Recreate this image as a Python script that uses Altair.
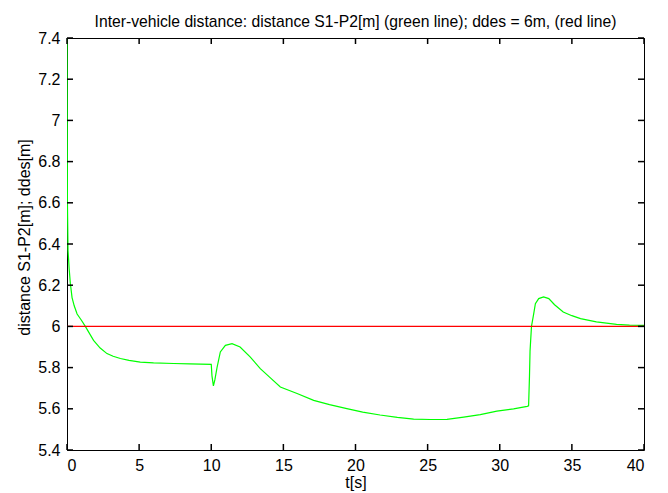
import altair as alt
import pandas as pd

t = [0, 0.03, 0.07, 0.15, 0.23, 0.35, 0.5, 0.7, 1.0, 1.27, 1.84, 2.3, 2.77, 3.2, 3.7,
     4.3, 5.08, 6.0, 7.39, 8.5, 10.0, 10.05, 10.15, 10.25, 10.4, 10.63, 10.98, 11.44,
     12.0, 12.71, 13.4, 14.1, 14.79, 15.95, 17.1, 18.2, 19.4, 20.5, 21.7, 22.9, 24.03,
     25.2, 26.34, 27.5, 28.65, 29.8, 30.96, 31.9, 32.0, 32.06, 32.1, 32.2, 32.35, 32.47,
     32.7, 33.04, 33.4, 33.8, 34.4, 35.0, 35.6, 36.7, 38.1, 39.0, 40.0]
dist = [7.4, 6.6, 6.37, 6.28, 6.21, 6.14, 6.1, 6.06, 6.03, 6.0, 5.932, 5.895, 5.868, 5.855,
        5.844, 5.835, 5.827, 5.823, 5.82, 5.818, 5.816, 5.76, 5.711, 5.74, 5.8, 5.876,
        5.908, 5.916, 5.9, 5.851, 5.795, 5.75, 5.706, 5.674, 5.641, 5.62, 5.601, 5.584,
        5.57, 5.558, 5.55, 5.548, 5.549, 5.56, 5.572, 5.589, 5.6, 5.612, 5.614, 5.755,
        5.88, 6.0, 6.06, 6.11, 6.135, 6.143, 6.135, 6.105, 6.07, 6.052, 6.038, 6.022,
        6.01, 6.006, 6.005]
ddes = 6.0
x_ticks = [0, 5, 10, 15, 20, 25, 30, 35, 40]
y_ticks = [5.4, 5.6, 5.8, 6.0, 6.2, 6.4, 6.6, 6.8, 7.0, 7.2, 7.4]

W, H, TL = 577, 412, 6

df = pd.DataFrame({"t": t, "d": dist})
ref = pd.DataFrame({"t": [0, 40], "d": [ddes, ddes]})
# tick segments: one row per tick, start and end in data units computed from pixel length
dx = 40 * TL / W
dy = 2.0 * TL / H
xt_rows = []
for v in x_ticks:
    xt_rows.append({"x": v, "x2": v, "y": 5.4, "y2": 5.4 + dy})
    xt_rows.append({"x": v, "x2": v, "y": 7.4 - dy, "y2": 7.4})
for v in y_ticks:
    xt_rows.append({"x": 0, "x2": dx, "y": v, "y2": v})
    xt_rows.append({"x": 40 - dx, "x2": 40, "y": v, "y2": v})
ticks_df = pd.DataFrame(xt_rows)

FONT = "Liberation Sans"
xs = alt.Scale(domain=[0, 40], nice=False, zero=False)
ys = alt.Scale(domain=[5.4, 7.4], nice=False, zero=False)

x_axis = alt.Axis(values=x_ticks, grid=False, domain=False, ticks=False,
                  labelFont=FONT, labelFontSize=16, labelColor="#000000", labelPadding=7,
                  title="t[s]", titleFont=FONT, titleFontSize=16, titleFontWeight="normal",
                  titleColor="#000000", titlePadding=1)
y_axis = alt.Axis(values=y_ticks, grid=False, domain=False, ticks=False,
                  labelFont=FONT, labelFontSize=16, labelColor="#000000", labelPadding=7,
                  labelExpr="format(datum.value, '.1~f')",
                  title="distance S1-P2[m]; ddes[m]", titleFont=FONT, titleFontSize=16,
                  titleFontWeight="normal", titleColor="#000000", titlePadding=5,
                  titleY=199)

green = alt.Chart(df).mark_line(color="#00ff00", strokeWidth=1.2, clip=True).encode(
    x=alt.X("t:Q", scale=xs, axis=x_axis),
    y=alt.Y("d:Q", scale=ys, axis=y_axis),
)
red = alt.Chart(ref).mark_line(color="#ff0000", strokeWidth=1.2, clip=True).encode(
    x=alt.X("t:Q", scale=xs),
    y=alt.Y("d:Q", scale=ys),
)
ticks = alt.Chart(ticks_df).mark_rule(color="#000000", strokeWidth=1.5).encode(
    x=alt.X("x:Q", scale=xs), x2="x2:Q",
    y=alt.Y("y:Q", scale=ys), y2="y2:Q",
)

chart = alt.layer(green, red, ticks).properties(
    width=W, height=H,
    autosize=alt.AutoSizeParams(type="none"),
    padding={"left": 67, "top": 38, "right": 24, "bottom": 43},
    title=alt.TitleParams(
        "Inter-vehicle distance: distance S1-P2[m] (green line); ddes = 6m, (red line)",
        font=FONT, fontSize=15.7, fontWeight="normal", color="#000000",
        anchor="middle", offset=-1),
    background="white",
).configure_view(stroke="#000000", strokeWidth=1)

chart.save("out.html", embed_options={"renderer": "svg", "actions": False})
